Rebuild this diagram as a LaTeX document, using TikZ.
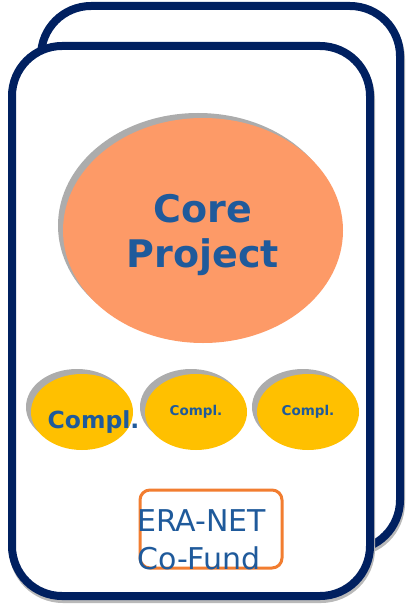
\documentclass[tikz,border=0pt]{standalone}
\definecolor{cardnavy}{RGB}{0, 32, 96}
\definecolor{coreorange}{RGB}{253, 154, 103}
\definecolor{complyellow}{RGB}{255, 192, 0}
\definecolor{textblue}{RGB}{31, 90, 155}
\definecolor{eraorange}{RGB}{242, 125, 48}
\usepackage{fontspec}
\setmainfont{DejaVu Sans}
\usepackage{tikz}
\usetikzlibrary{shapes, shadows, positioning, calc}

\begin{document}
\begin{tikzpicture}[x=1pt, y=-1pt,
  card/.style={draw=cardnavy, fill=white, line width=8pt, rounded corners=50pt, inner sep=0pt,
    drop shadow={shadow xshift=1pt, shadow yshift=-3pt, opacity=1, fill=gray!55, draw=gray!55, line width=8pt}},
  blob/.style={ellipse, inner sep=0pt,
    drop shadow={shadow xshift=-5pt, shadow yshift=5pt, opacity=1, fill=gray!65}},
  compl/.style={blob, fill=complyellow, minimum width=102, minimum height=76,
    text=textblue, font=\bfseries\fontsize{13.5}{16}\selectfont}]
  \useasboundingbox (0,0) rectangle (405,604);

  % Cards
  \node[card, minimum width=359, minimum height=544] (backcard) at (220.5, 278) {};
  \node[card, minimum width=358, minimum height=550] (frontcard) at (191, 321) {};

  % Core project
  \node[blob, fill=coreorange, minimum width=280, minimum height=225, align=center,
    text=textblue, text depth=0pt, font=\bfseries\fontsize{38}{45}\selectfont] (core) at (203, 230.5) {Core\\Project};

  % Complementary actions
  \node[compl] (compla) at (82, 412) {};
  \node[text=textblue, anchor=base, inner sep=0pt, font=\bfseries\fontsize{23.5}{28}\selectfont] (complabel) at (93.5, 428) {Compl.};
  \node[compl] (complb) at (196, 412) {Compl.};
  \node[compl] (complc) at (308, 412) {Compl.};

  % ERA-NET Co-Fund
  \node[draw=eraorange, line width=3pt, rounded corners=10pt, minimum width=142, minimum height=78] (eranet) at (211, 529) {};
  \node[anchor=south west, inner sep=0pt, align=left, text=textblue, font=\fontsize{30}{38}\selectfont] (eralabel) at ([xshift=-1.5pt, yshift=-1pt]eranet.south west) {ERA-NET\\Co-Fund};
\end{tikzpicture}
\end{document}
